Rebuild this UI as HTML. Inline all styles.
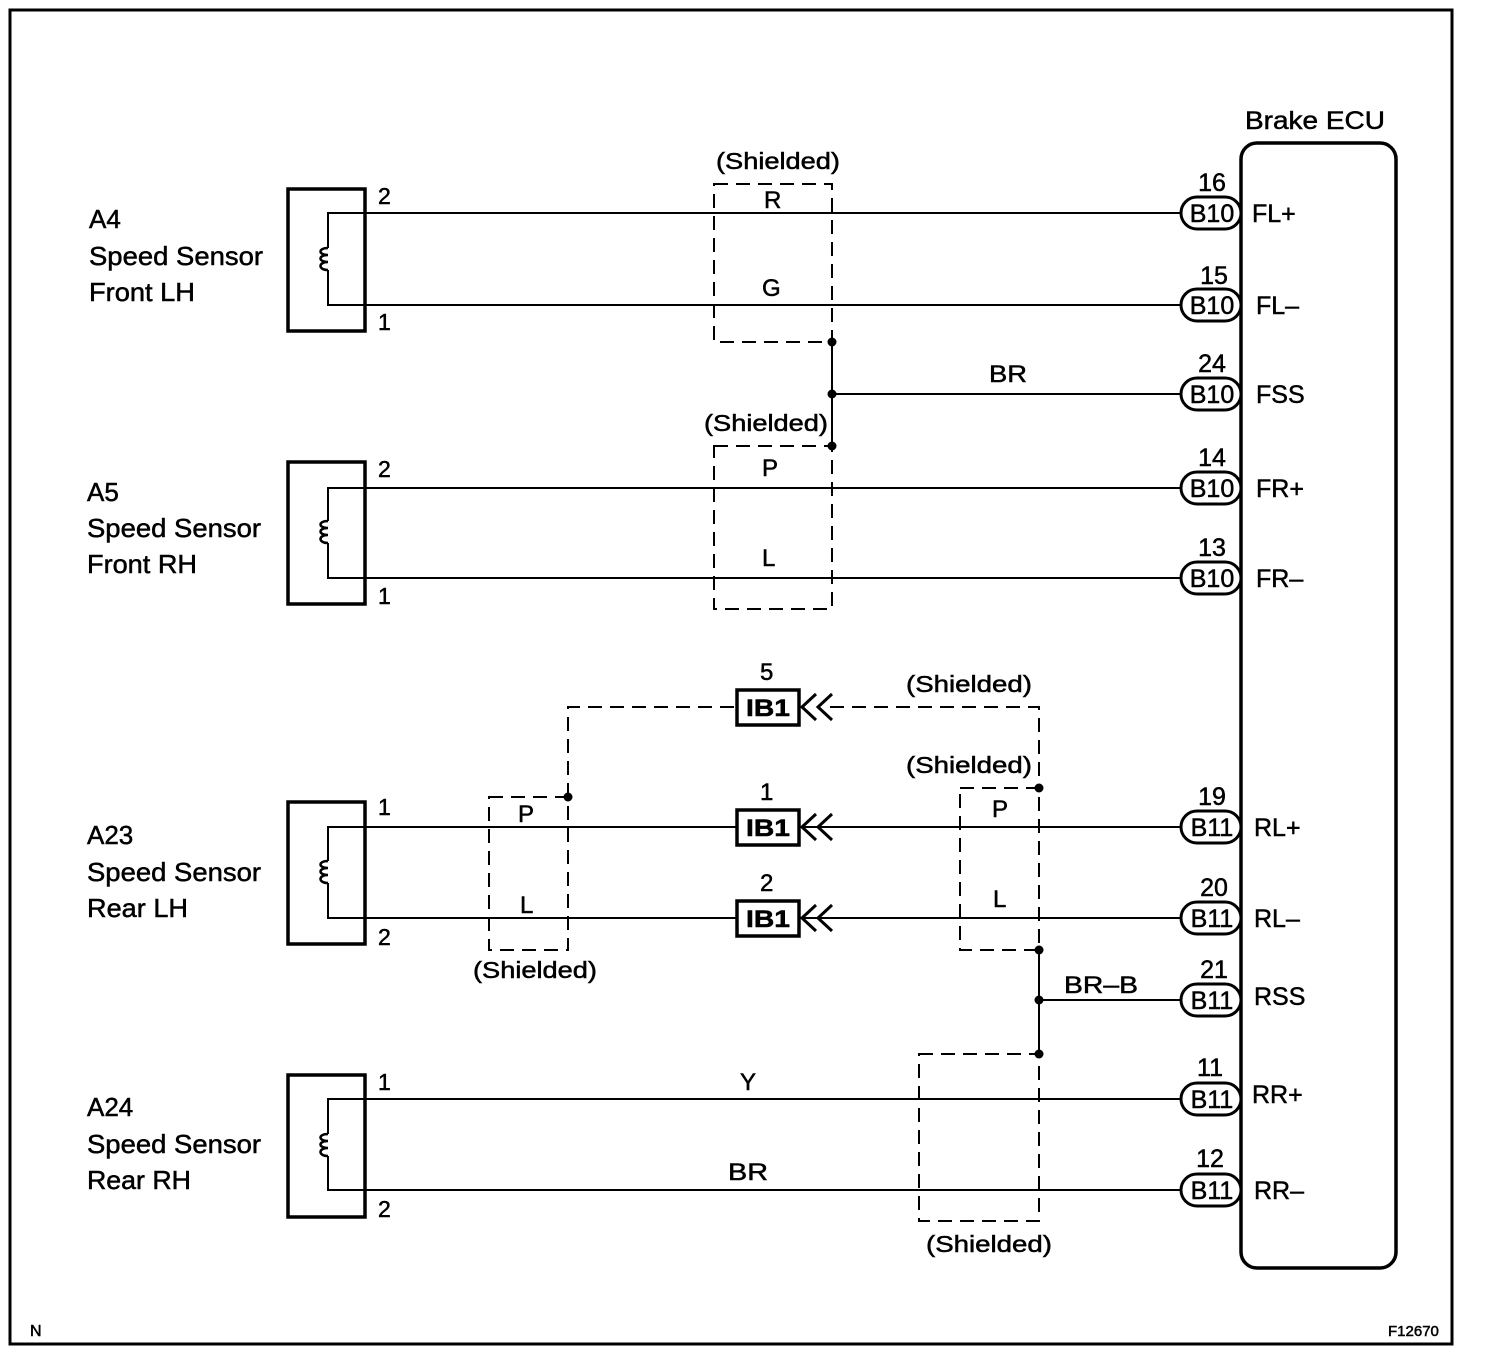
<!DOCTYPE html>
<html><head><style>
html,body{margin:0;padding:0;background:#fff;}
svg{display:block;}
text{font-family:"Liberation Sans",Arial,sans-serif;fill:#000;stroke:#000;stroke-width:0.5;}
</style></head><body>
<svg width="1504" height="1364" viewBox="0 0 1504 1364" xmlns="http://www.w3.org/2000/svg">
<rect x="10" y="10" width="1442" height="1334" fill="none" stroke="#000" stroke-width="3"/>
<text x="30" y="1336" font-size="16">N</text>
<text x="1388" y="1336" font-size="15">F12670</text>

<text x="1245" y="129" font-size="25" textLength="140" lengthAdjust="spacingAndGlyphs">Brake ECU</text>
<rect x="1241" y="143" width="155" height="1125" rx="16" fill="none" stroke="#000" stroke-width="3.5"/>

<g stroke="#000" stroke-width="2" fill="none">
<g stroke-width="3.5">
<rect x="288" y="189" width="77" height="142"/>
<rect x="288" y="462" width="77" height="142"/>
<rect x="288" y="802" width="77" height="142"/>
<rect x="288" y="1075" width="77" height="142"/>
</g>
<path d="M365 213 H328 V248 M328 270 V305 H365"/>
<path d="M365 488 H328 V521 M328 543 V578 H365"/>
<path d="M365 827 H328 V861 M328 883 V918 H365"/>
<path d="M365 1099 H328 V1134 M328 1156 V1190 H365"/>
<g stroke-width="2.5">
<path d="M328 248 c-10 0 -10 7 0 7 c-10 0 -10 7 0 7 c-10 0 -10 8 0 8"/>
<path d="M328 521 c-10 0 -10 7 0 7 c-10 0 -10 7 0 7 c-10 0 -10 8 0 8"/>
<path d="M328 861 c-10 0 -10 7 0 7 c-10 0 -10 7 0 7 c-10 0 -10 8 0 8"/>
<path d="M328 1134 c-10 0 -10 7 0 7 c-10 0 -10 7 0 7 c-10 0 -10 8 0 8"/>
</g>
<path d="M365 213 H1181 M365 305 H1181 M832 394 H1181 M365 488 H1181 M365 578 H1181"/>
<path d="M365 827 H737 M365 918 H737 M800 827 H1181 M800 918 H1181 M1039 1000 H1181 M365 1099 H1181 M365 1190 H1181"/>
<path d="M832 342 V446 M1039 950 V1054"/>
<g stroke-dasharray="14,8">
<rect x="714" y="184" width="118" height="158"/>
<rect x="714" y="446" width="118" height="163"/>
<rect x="489" y="797" width="79" height="153"/>
<rect x="960" y="788" width="79" height="162"/>
<rect x="919" y="1054" width="120" height="167"/>
<path d="M568 797 V707 H737 M830 707 H1039 V788"/>
</g>
<g stroke-width="3.5">
<rect x="737" y="690" width="62" height="35"/>
<rect x="737" y="810" width="62" height="35"/>
<rect x="737" y="901" width="62" height="35"/>
</g>
<g stroke-width="3">
<path d="M816 694 L802 707 L816 720 M832 694 L818 707 L832 720"/>
<path d="M816 814 L802 827 L816 840 M832 814 L818 827 L832 840"/>
<path d="M816 905 L802 918 L816 931 M832 905 L818 918 L832 931"/>
</g>
<g stroke-width="3" fill="#fff">
<rect x="1181" y="197" width="60" height="32" rx="16"/>
<rect x="1181" y="289" width="60" height="32" rx="16"/>
<rect x="1181" y="378" width="60" height="32" rx="16"/>
<rect x="1181" y="472" width="60" height="32" rx="16"/>
<rect x="1181" y="562" width="60" height="32" rx="16"/>
<rect x="1181" y="811" width="60" height="32" rx="16"/>
<rect x="1181" y="902" width="60" height="32" rx="16"/>
<rect x="1181" y="984" width="60" height="32" rx="16"/>
<rect x="1181" y="1083" width="60" height="32" rx="16"/>
<rect x="1181" y="1174" width="60" height="32" rx="16"/>
</g>
</g>
<g fill="#000">
<circle cx="832" cy="342" r="4.5"/><circle cx="832" cy="394" r="4.5"/><circle cx="832" cy="446" r="4.5"/>
<circle cx="568" cy="797" r="4.5"/><circle cx="1039" cy="788" r="4.5"/>
<circle cx="1039" cy="950" r="4.5"/><circle cx="1039" cy="1000" r="4.5"/><circle cx="1039" cy="1054" r="4.5"/>
</g>

<g font-size="26">
<text x="89" y="228">A4</text><text x="89" y="265" textLength="174" lengthAdjust="spacingAndGlyphs">Speed Sensor</text><text x="89" y="301" textLength="106" lengthAdjust="spacingAndGlyphs">Front LH</text>
<text x="87" y="501">A5</text><text x="87" y="537" textLength="174" lengthAdjust="spacingAndGlyphs">Speed Sensor</text><text x="87" y="573" textLength="110" lengthAdjust="spacingAndGlyphs">Front RH</text>
<text x="87" y="844">A23</text><text x="87" y="881" textLength="174" lengthAdjust="spacingAndGlyphs">Speed Sensor</text><text x="87" y="917" textLength="101" lengthAdjust="spacingAndGlyphs">Rear LH</text>
<text x="87" y="1116">A24</text><text x="87" y="1153" textLength="174" lengthAdjust="spacingAndGlyphs">Speed Sensor</text><text x="87" y="1189" textLength="104" lengthAdjust="spacingAndGlyphs">Rear RH</text>
</g>
<g font-size="23">
<text x="378" y="204">2</text><text x="378" y="330">1</text>
<text x="378" y="477">2</text><text x="378" y="604">1</text>
<text x="378" y="815">1</text><text x="378" y="945">2</text>
<text x="378" y="1090">1</text><text x="378" y="1217">2</text>
</g>
<g font-size="23">
<text x="716" y="169" textLength="124" lengthAdjust="spacingAndGlyphs">(Shielded)</text>
<text x="704" y="431" textLength="124" lengthAdjust="spacingAndGlyphs">(Shielded)</text>
<text x="906" y="692" textLength="126" lengthAdjust="spacingAndGlyphs">(Shielded)</text>
<text x="906" y="773" textLength="126" lengthAdjust="spacingAndGlyphs">(Shielded)</text>
<text x="473" y="978" textLength="124" lengthAdjust="spacingAndGlyphs">(Shielded)</text>
<text x="926" y="1252" textLength="126" lengthAdjust="spacingAndGlyphs">(Shielded)</text>
</g>
<g font-size="24">
<text x="764" y="208">R</text><text x="762" y="296">G</text><text x="989" y="382" textLength="38" lengthAdjust="spacingAndGlyphs">BR</text>
<text x="762" y="476">P</text><text x="762" y="566">L</text>
<text x="518" y="822">P</text><text x="520" y="913">L</text>
<text x="992" y="817">P</text><text x="993" y="907">L</text>
<text x="1064" y="993" textLength="74" lengthAdjust="spacingAndGlyphs">BR–B</text>
<text x="740" y="1090">Y</text><text x="728" y="1180" textLength="40" lengthAdjust="spacingAndGlyphs">BR</text>
<text x="760" y="680">5</text><text x="760" y="800">1</text><text x="760" y="891">2</text>
</g>
<g font-size="24" font-weight="bold">
<text x="746" y="716" textLength="44" lengthAdjust="spacingAndGlyphs">IB1</text><text x="746" y="836" textLength="44" lengthAdjust="spacingAndGlyphs">IB1</text><text x="746" y="927" textLength="44" lengthAdjust="spacingAndGlyphs">IB1</text>
</g>
<g font-size="25" text-anchor="middle">
<text x="1212" y="222">B10</text><text x="1212" y="314">B10</text><text x="1212" y="403">B10</text>
<text x="1212" y="497">B10</text><text x="1212" y="587">B10</text>
<text x="1212" y="836">B11</text><text x="1212" y="927">B11</text><text x="1212" y="1009">B11</text>
<text x="1212" y="1108">B11</text><text x="1212" y="1199">B11</text>
<text x="1212" y="191">16</text><text x="1214" y="284">15</text><text x="1212" y="372">24</text>
<text x="1212" y="466">14</text><text x="1212" y="556">13</text>
<text x="1212" y="805">19</text><text x="1214" y="896">20</text><text x="1214" y="978">21</text>
<text x="1210" y="1076">11</text><text x="1210" y="1167">12</text>
</g>
<g font-size="25">
<text x="1252" y="222">FL+</text><text x="1256" y="314">FL–</text><text x="1256" y="403">FSS</text>
<text x="1256" y="497">FR+</text><text x="1256" y="587">FR–</text>
<text x="1254" y="836">RL+</text><text x="1254" y="927">RL–</text><text x="1254" y="1005">RSS</text>
<text x="1252" y="1103">RR+</text><text x="1254" y="1199">RR–</text>
</g>
</svg>
</body></html>
